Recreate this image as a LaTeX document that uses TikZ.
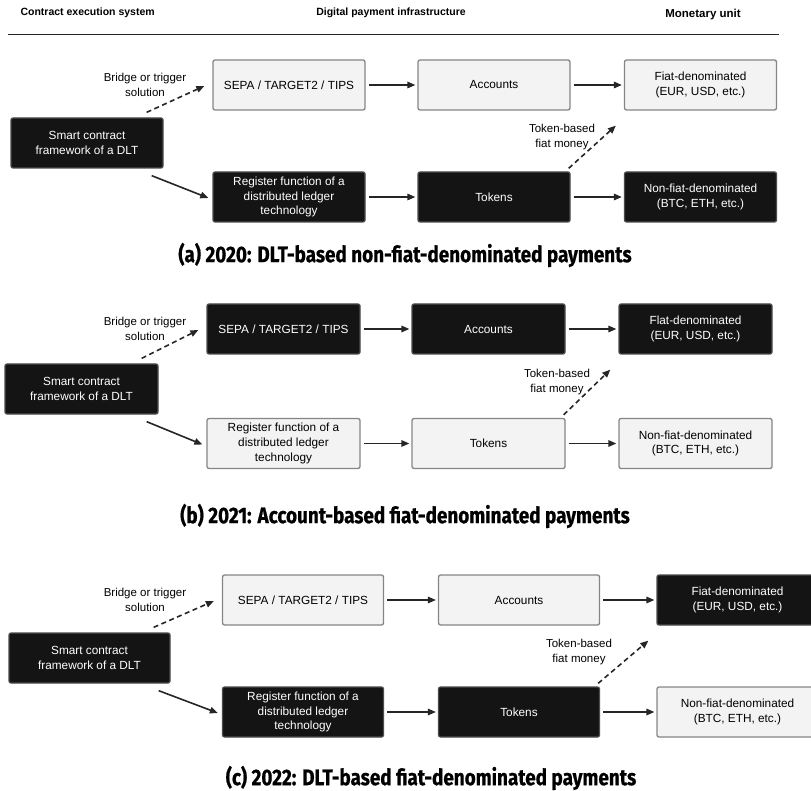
\documentclass[tikz,border=0pt]{standalone}
\usepackage{fontspec}
\setmainfont{Liberation Sans}
\newfontfamily\capfont[FakeStretch=0.84,BoldFeatures={FakeBold=0.7}]{Fira Sans}
\usepackage{tikz}
\usetikzlibrary{calc,arrows.meta}
\definecolor{ink}{HTML}{141414}
\definecolor{paper}{HTML}{F3F3F3}
\definecolor{edge}{HTML}{858585}
\definecolor{wire}{HTML}{262626}
\tikzset{
  box/.style={rounded corners=2pt,minimum height=50,align=center,inner sep=2pt,line width=1.3pt,font=\fontsize{11.8}{14.7}\selectfont},
  lite/.style={box,fill=paper,draw=edge,text=black},
  dark/.style={box,fill=ink,draw=black!70,text=white},
  link/.style={draw=wire,line width=1.6pt,-{Triangle[length=8pt,width=6.5pt]}},
  dlink/.style={link,dash pattern=on 5pt off 3.5pt},
  note/.style={align=center,font=\fontsize{11.5}{14.5}\selectfont},
  head/.style={font=\bfseries\fontsize{10.5}{12}\selectfont},
  paneltitle/.style={font=\capfont\bfseries\fontsize{22.5}{26}\selectfont}
}

\begin{document}
\begin{tikzpicture}[x=1pt,y=-1pt]
\useasboundingbox (0,0) rectangle (811,791);
\node[head,anchor=west] (hdcontract) at (17,13) {Contract execution system};
\node[head] (hdpayment) at (391,13) {Digital payment infrastructure};
\node[head,font=\bfseries\fontsize{11.5}{13}\selectfont] (hdunit) at (703,15) {Monetary unit};
\draw[draw=wire,line width=1.5pt] (8,34.5) -- (779,34.5);
\foreach \p/\w/\sx/\sy/\xl/\xm/\xr/\yt/\yb/\tA/\tB/\tC/\bA/\bB/\bC/\fw/\nx/\tx/\ty/\ttl in {
  a/152/87/143/289/494/700.5/85/197/lite/lite/lite/dark/dark/dark/Fiat/562/405/255/(a) 2020: DLT-based non-fiat-denominated payments,
  b/153/81.5/389/283.5/488.5/695.5/329/443.5/dark/dark/dark/lite/lite/lite/Flat/557/405/516/(b) 2021: Account-based fiat-denominated payments,
  c/161/89.5/658/303/519/737.5/600/712/lite/lite/dark/dark/dark/lite/Fiat/579/431/778/(c) 2022: DLT-based fiat-denominated payments}{
  \node[dark,minimum width=\w] (smart\p) at (\sx,\sy) {Smart contract\\framework of a DLT};
  \node[\tA,minimum width=\w] (sepa\p) at (\xl,\yt) {SEPA / TARGET2 / TIPS};
  \node[\tB,minimum width=\w] (acc\p) at (\xm,\yt) {Accounts};
  \node[\tC,minimum width=\w] (fiat\p) at (\xr,\yt) {\fw-denominated\\(EUR, USD, etc.)};
  \node[\bA,minimum width=\w] (reg\p) at (\xl,\yb) {Register function of a\\distributed ledger\\technology};
  \node[\bB,minimum width=\w] (tok\p) at (\xm,\yb) {Tokens};
  \node[\bC,minimum width=\w] (nonfiat\p) at (\xr,\yb) {Non-fiat-denominated\\(BTC, ETH, etc.)};
  \node[note] (bridge\p) at (145,\yt) {Bridge or trigger\\solution};
  \node[note] (tokfiat\p) at (\nx,{(\yt+\yb)/2-4}) {Token-based\\fiat money};
  \node[paneltitle] (title\p) at (\tx,\ty) {\ttl};
  \draw[dlink] ($(smart\p.north east)+(-17,-5)$) -- ($(sepa\p.west)+(-8,1)$);
  \draw[link] ($(smart\p.south east)+(-12,7)$) -- ($(reg\p.west)+(-4,1)$);
  \draw[link,shorten <=3pt,shorten >=2pt] (sepa\p) -- (acc\p);
  \draw[link,shorten <=3pt,shorten >=2pt] (acc\p) -- (fiat\p);
  \draw[link,shorten <=3pt,shorten >=2pt] (reg\p) -- (tok\p);
  \draw[link,shorten <=3pt,shorten >=2pt] (tok\p) -- (nonfiat\p);
  \draw[dlink] ($(tok\p.north east)+(-2,-3)$) -- ($(fiat\p.south west)+(-8,15)$);}
\end{tikzpicture}
\end{document}
